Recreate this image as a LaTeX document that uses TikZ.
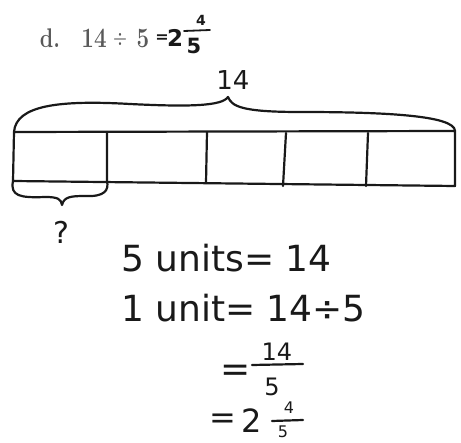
\documentclass[tikz,border=0pt]{standalone}
\usepackage{fontspec}
\setsansfont{DejaVu Sans}
\newfontfamily\hand{DejaVu Sans}
\begin{document}
\begin{tikzpicture}[x=1pt,y=-1pt,
  ink/.style={line width=2.2pt,line cap=round,line join=round,black!90},
  printed/.style={text=black!65,font=\bfseries\fontsize{28}{30}\selectfont,inner sep=0pt,xscale=0.8},
  hw/.style={font=\hand\fontsize{36}{40}\selectfont,inner sep=0pt,text=black!90},
  hwsmall/.style={font=\hand\fontsize{24}{26}\selectfont,inner sep=0pt,text=black!90},
  hwtiny/.style={font=\hand\fontsize{15}{16}\selectfont,inner sep=0pt,text=black!90}]
\useasboundingbox (0,0) rectangle (461,443);
% header
\node[printed,font=\bfseries\fontsize{27}{29}\selectfont] (d) at (50,38) {d.};
\node[printed] (n14h) at (94,38) {14};
\node[printed,font=\bfseries\fontsize{20}{22}\selectfont] (div) at (120,39) {÷};
\node[printed] (n5h) at (143,38) {5};
\node[hwtiny,font=\hand\bfseries\fontsize{16}{17}\selectfont] (heq) at (162,39) {=};
\node[hwtiny,font=\hand\bfseries\fontsize{23}{24}\selectfont] (h2) at (175,38) {2};
\coordinate (hb1) at (184,31); \coordinate (hb2) at (210,30);
\draw[ink,line width=1.8pt] (hb1) -- (hb2);
\node[hwtiny,font=\hand\bfseries\fontsize{14}{15}\selectfont] (h4) at (201,20) {4};
\node[hwtiny,font=\hand\bfseries\fontsize{21}{22}\selectfont] (h5) at (194,46) {5};
% bar
\coordinate (tl) at (14,132); \coordinate (tr) at (455,131);
\coordinate (bl) at (13,181); \coordinate (br) at (455,186);
\draw[ink] (tl) -- (tr) -- (br) -- (bl) -- cycle;
\coordinate (t1) at (107,132); \coordinate (b1) at (107,181);
\coordinate (t2) at (207,132); \coordinate (b2) at (206,183);
\coordinate (t3) at (286,133); \coordinate (b3) at (283,186);
\coordinate (t4) at (368,133); \coordinate (b4) at (366,186);
\draw[ink] (t1) -- (b1) (t2) -- (b2) (t3) -- (b3) (t4) -- (b4);
% top brace
\coordinate (tp) at (228,97);
\draw[ink] (tl) .. controls (16,105) and (60,100) .. (130,104)
  .. controls (190,107) and (222,106) .. (tp)
  .. controls (232,106) and (240,112) .. (300,112)
  .. controls (380,112) and (455,115) .. (tr);
\node[hw,font=\hand\fontsize{26}{28}\selectfont] (n14) at (233,80) {14};
% bottom brace
\coordinate (bp) at (62,205);
\draw[ink] (bl) .. controls (10,196) and (20,198) .. (45,197)
  .. controls (58,197) and (61,199) .. (bp)
  .. controls (64,197) and (70,196) .. (85,196)
  .. controls (105,197) and (109,190) .. (b1);
\node[hw,font=\hand\fontsize{30}{32}\selectfont] (q) at (61,232) {?};
% equations
\node[hw,anchor=west] (l1) at (121,258) {5 units= 14};
\node[hw,anchor=west] (l2) at (121,308) {1 unit= 14÷5};
\node[hw] (e3) at (236,373) {=};
\node[hwsmall] (n3) at (277,352) {14};
\coordinate (f3a) at (252,365); \coordinate (f3b) at (303,364);
\draw[ink] (f3a) -- (f3b);
\node[hwsmall] (d3) at (272,387) {5};
\node[hw,font=\hand\fontsize{32}{34}\selectfont] (e4) at (223,421) {=};
\node[hw,font=\hand\fontsize{32}{34}\selectfont] (t42) at (252,421) {2};
\node[hwtiny,font=\hand\fontsize{16}{17}\selectfont] (n4) at (289,408) {4};
\coordinate (f4a) at (272,421); \coordinate (f4b) at (303,420);
\draw[ink] (f4a) -- (f4b);
\node[hwtiny,font=\hand\fontsize{16}{17}\selectfont] (d4) at (283,432) {5};
\end{tikzpicture}
\end{document}
